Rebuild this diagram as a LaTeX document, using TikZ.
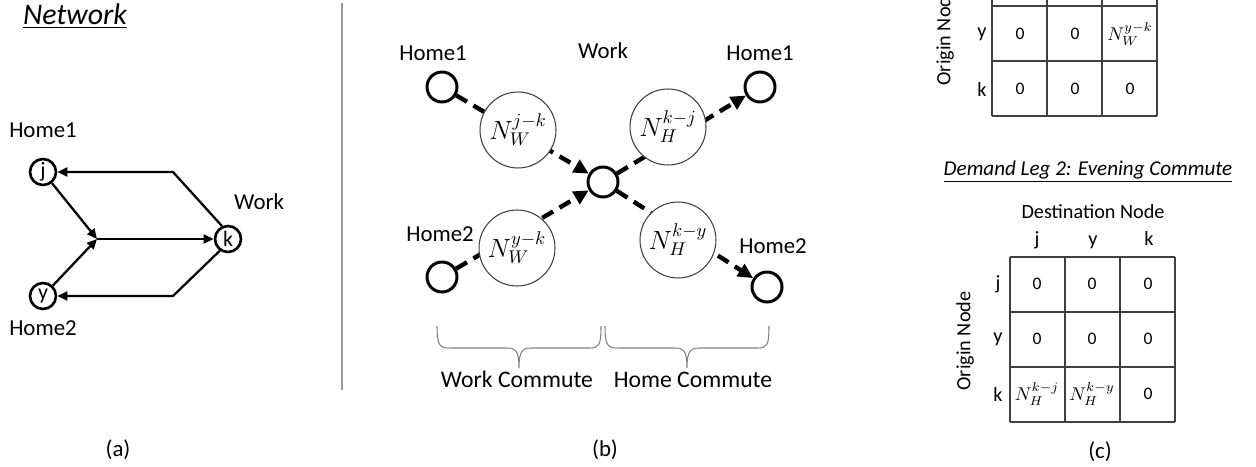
\RequirePackage{fix-cm}
\documentclass[tikz,border=0pt]{standalone}
\usepackage{fontspec}
\setmainfont{Carlito}
\usetikzlibrary{arrows.meta}
\tikzset{
  txt/.style={inner sep=0pt, font=\fontsize{13}{15}\selectfont},
  anode/.style={circle, draw, line width=1.5pt, minimum size=5.2mm, inner sep=0pt, font=\fontsize{12.5}{14}\selectfont},
  arr/.style={line width=1.3pt, -{Triangle[length=2mm,width=1.8mm]}},
  smallc/.style={circle, draw, line width=1.7pt, minimum size=6mm, inner sep=0pt, fill=white},
  bigc/.style={circle, draw=black!75, line width=0.6pt, minimum size=15.2mm, inner sep=0pt, fill=white, font=\fontsize{15}{17}\selectfont},
  darr/.style={line width=2.5pt, dash pattern=on 2.5mm off 1.5mm, -{Triangle[length=3mm,width=2.8mm]}},
  bracel/.style={draw=black!50, line width=0.6pt},
  grid/.style={draw=black!75, line width=1.1pt},
  lab/.style={inner sep=0pt, font=\fontsize{11.5}{13}\selectfont},
  cell/.style={inner sep=0pt, font=\fontsize{10}{12}\selectfont},
  mcell/.style={inner sep=0pt, font=\fontsize{10.5}{12}\selectfont},
}
\begin{document}
\begin{tikzpicture}[x=0.02cm, y=-0.02cm]
\useasboundingbox (0,0) rectangle (1256,466);
\begin{scope}
\clip (0,0) rectangle (1256,466);
% ---------------- panel (a)
\node[inner sep=0pt, font=\fontsize{17}{19}\selectfont\itshape] (net) at (75,16) {\underline{Network}};
\node[txt] (lh1) at (43,130) {Home1};
\node[txt] (lwork) at (259,202) {Work};
\node[txt] (lh2) at (43,328) {Home2};
\node[anode] (j) at (43,172) {j};
\node[anode] (k) at (228,239) {k};
\node[anode] (y) at (43,296) {y};
\coordinate (m) at (97,239);
\coordinate (c1) at (173,172);
\coordinate (c2) at (173,296);
\draw[arr] (j) -- (m);
\draw[arr] (y) -- (m);
\draw[arr] (m) -- (k);
\draw[arr] (k.115) -- (c1) -- (j);
\draw[arr] (k.235) -- (c2) -- (y);
\node[txt] (capa) at (118,450) {(a)};
% divider
\coordinate (d1) at (342,3);
\coordinate (d2) at (342,390);
\draw[black!40, line width=0.9pt] (d1) -- (d2);
% ---------------- panel (b)
\node[txt] (bh1l) at (433,53) {Home1};
\node[txt] (bwork) at (603,51) {Work};
\node[txt] (bh1r) at (760,53) {Home1};
\node[txt] (bh2l) at (440,234) {Home2};
\node[txt] (bh2r) at (773,246) {Home2};
\node[smallc] (h1l) at (442,87) {};
\node[smallc] (h1r) at (760,87) {};
\node[smallc] (h2l) at (442,277) {};
\node[smallc] (h2r) at (767,287) {};
\node[smallc] (w) at (603,182) {};
\draw[darr] (h1l) -- (w);
\draw[darr] (h2l) -- (w);
\draw[darr] (w) -- (h1r);
\draw[darr] (w) -- (h2r);
\node[bigc] (nwjk) at (518,130) {$N_W^{j-k}$};
\node[bigc] (nhkj) at (668,127) {$N_H^{k-j}$};
\node[bigc] (nwyk) at (517,248) {$N_W^{y-k}$};
\node[bigc] (nhky) at (678,240) {$N_H^{k-y}$};
% braces
\draw[bracel] (437,326) .. controls (437,346) and (440,348) .. (450,348) -- (507,348)
  .. controls (515,348) and (519,350) .. (519,368)
  .. controls (519,350) and (523,348) .. (531,348) -- (589,348)
  .. controls (599,348) and (601,346) .. (601,326);
\draw[bracel] (605,326) .. controls (605,346) and (608,348) .. (618,348) -- (675,348)
  .. controls (683,348) and (687,350) .. (687,368)
  .. controls (687,350) and (691,348) .. (699,348) -- (757,348)
  .. controls (767,348) and (769,346) .. (769,326);
\node[txt, anchor=base, font=\fontsize{13.5}{15}\selectfont] (wc) at (517,387) {Work Commute};
\node[txt, anchor=base, font=\fontsize{13.5}{15}\selectfont] (hc) at (693,387) {Home Commute};
\node[txt] (capb) at (605,450) {(b)};
% ---------------- panel (c), upper table (cut off)
\foreach \xx in {992,1047,1102,1157} \draw[grid] (\xx,-49) -- (\xx,116);
\foreach \yy in {6,61,116} \draw[grid] (992,\yy) -- (1157,\yy);
\node[lab] (ury) at (982,34) {y};
\node[lab] (urk) at (982,89) {k};
\node[lab, rotate=90] (uorig) at (945,36) {Origin Node};
\node[cell] (u21) at (1020,34) {0};
\node[cell] (u22) at (1075,34) {0};
\node[mcell] (u23) at (1130,34) {$N_W^{y-k}$};
\node[cell] (u31) at (1020,89) {0};
\node[cell] (u32) at (1075,89) {0};
\node[cell] (u33) at (1130,89) {0};
% lower table
\node[inner sep=0pt, font=\fontsize{12}{14}\selectfont\itshape] (t2) at (1088,172) {\underline{Demand Leg 2: Evening Commute}};
\node[lab] (dest) at (1093,212) {Destination Node};
\node[lab, anchor=base] (cj) at (1037,245) {j};
\node[lab, anchor=base] (cy) at (1093,245) {y};
\node[lab, anchor=base] (ck) at (1149,245) {k};
\foreach \xx in {1010,1065,1120,1175} \draw[grid] (\xx,257) -- (\xx,422);
\foreach \yy in {257,312,367,422} \draw[grid] (1010,\yy) -- (1175,\yy);
\node[lab] (rj) at (998,284) {j};
\node[lab] (ry) at (998,339) {y};
\node[lab] (rk) at (998,394) {k};
\node[lab, rotate=90] (lorig) at (965,341) {Origin Node};
\node[cell] (l11) at (1037,284) {0};
\node[cell] (l12) at (1092,284) {0};
\node[cell] (l13) at (1148,284) {0};
\node[cell] (l21) at (1037,339) {0};
\node[cell] (l22) at (1092,339) {0};
\node[cell] (l23) at (1148,339) {0};
\node[mcell] (l31) at (1037,394) {$N_H^{k-j}$};
\node[mcell] (l32) at (1092,394) {$N_H^{k-y}$};
\node[cell] (l33) at (1148,394) {0};
\node[txt] (capc) at (1100,452) {(c)};
\end{scope}
\end{tikzpicture}
\end{document}
